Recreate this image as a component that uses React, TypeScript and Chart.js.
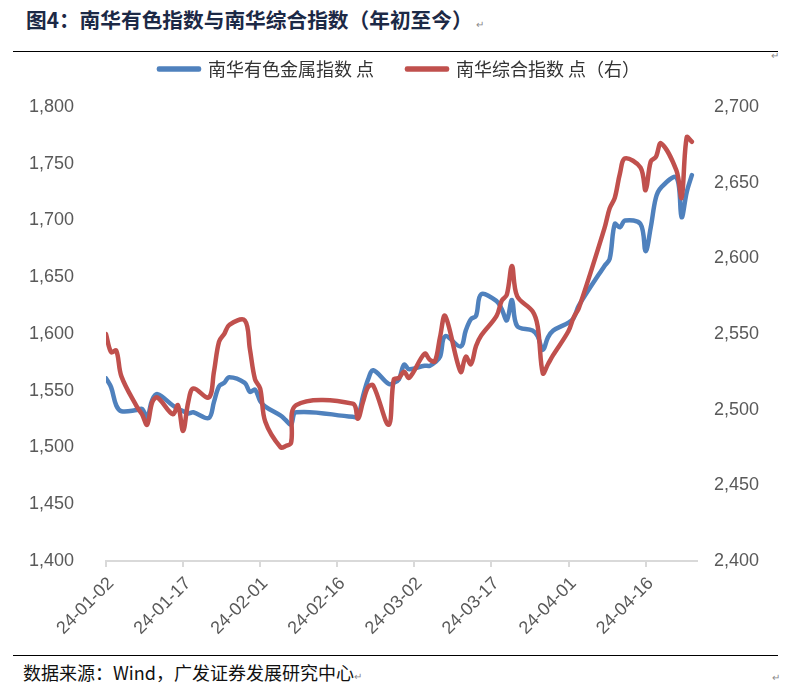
import React, { useEffect, useRef } from "react";
import { Chart, registerables } from "chart.js";

Chart.register(...registerables);

const tradeDates = [
  "2024-01-02","2024-01-03","2024-01-04","2024-01-05","2024-01-08","2024-01-09","2024-01-10","2024-01-11","2024-01-12",
  "2024-01-15","2024-01-16","2024-01-17","2024-01-18","2024-01-19","2024-01-22","2024-01-23","2024-01-24","2024-01-25",
  "2024-01-26","2024-01-29","2024-01-30","2024-01-31","2024-02-01","2024-02-02","2024-02-05","2024-02-06","2024-02-07",
  "2024-02-08","2024-02-19","2024-02-20","2024-02-21","2024-02-22","2024-02-23","2024-02-26","2024-02-27","2024-02-28",
  "2024-02-29","2024-03-01","2024-03-04","2024-03-05","2024-03-06","2024-03-07","2024-03-08","2024-03-11","2024-03-12",
  "2024-03-13","2024-03-14","2024-03-15","2024-03-18","2024-03-19","2024-03-20","2024-03-21","2024-03-22","2024-03-25",
  "2024-03-26","2024-03-27","2024-03-28","2024-03-29","2024-04-01","2024-04-02","2024-04-03","2024-04-08","2024-04-09",
  "2024-04-10","2024-04-11","2024-04-12","2024-04-15","2024-04-16","2024-04-17","2024-04-18","2024-04-19","2024-04-22",
  "2024-04-23","2024-04-24","2024-04-25",
];

// 南华有色金属指数（左轴）
const metalsIndex = [
  1561,1553,1537,1532,1533,1534,1527,1542,1547,1537,1534,1532,1530,1531,1526,1540,1554,1557,1562,1557,1549,1551,
  1541,1536,1528,1524,1520,1531,1527,1527,1545,1560,1568,1556,1557,1560,1573,
  1569,1572,1572,1575,1580,1598,1589,1603,1613,1616,1635,1629,1622,1612,1630,1607,1603,1598,1586,1597,1603,
  1610,1614,1625,1660,1666,1697,1694,1700,1697,1673,1694,1720,1729,1738,1703,1725,1740,
];

// 南华综合指数（右轴）
const compositeIndex = [
  2550,2538,2539,2522,2502,2497,2490,2505,2508,2497,2503,2486,2505,2514,2508,2525,2545,2550,2556,2559,2540,2520,
  2514,2492,2475,2476,2478,2503,2504,2494,2505,2515,2516,2490,2520,2521,2525,
  2521,2537,2533,2532,2548,2562,2525,2535,2530,2542,2549,2562,2572,2576,2595,2575,2565,2555,2524,2530,2536,
  2552,2561,2567,2620,2633,2640,2656,2666,2660,2645,2664,2667,2676,2658,2640,2680,2677,
];

const seriesNames = ["南华有色金属指数 点", "南华综合指数 点（右）"];
const leftAxis = { min: 1400, max: 1800, step: 50 };
const rightAxis = { min: 2400, max: 2700, step: 50 };
const xAxisDays = { min: 0, max: 115, step: 15 };

const titleText = "图4：南华有色指数与南华综合指数（年初至今）";
const sourceText = "数据来源：Wind，广发证券发展研究中心";

const BLUE = "#4F81BD";
const RED = "#C0504D";
const CJK = '"Noto Sans CJK SC", "Noto Sans", sans-serif';
const LATIN = '"Liberation Sans", Arial, sans-serif';

const START = Date.UTC(2024, 0, 2);
const dayOffset = (s: string) => {
  const [y, m, d] = s.split("-").map(Number);
  return (Date.UTC(y, m - 1, d) - START) / 86400000;
};
const pad2 = (n: number) => String(n).padStart(2, "0");
const fmtDay = (v: number) => {
  const dt = new Date(START + v * 86400000);
  return `${String(dt.getUTCFullYear()).slice(2)}-${pad2(dt.getUTCMonth() + 1)}-${pad2(dt.getUTCDate())}`;
};
const fmtNum = (v: number) => Number(v).toLocaleString("en-US");

export default function App() {
  const ref = useRef<HTMLCanvasElement | null>(null);

  useEffect(() => {
    if (!ref.current) return;
    const chart = new Chart(ref.current, {
      type: "line",
      data: {
        datasets: [
          {
            label: seriesNames[0],
            data: tradeDates.map((d, i) => ({ x: dayOffset(d), y: metalsIndex[i] })),
            borderColor: BLUE,
            backgroundColor: BLUE,
            borderWidth: 4.5,
            pointRadius: 0,
            tension: 0.35,
            yAxisID: "y",
            order: 1,
            borderCapStyle: "round",
            borderJoinStyle: "round",
          },
          {
            label: seriesNames[1],
            data: tradeDates.map((d, i) => ({ x: dayOffset(d), y: compositeIndex[i] })),
            borderColor: RED,
            backgroundColor: RED,
            borderWidth: 4.5,
            pointRadius: 0,
            tension: 0.35,
            yAxisID: "y1",
            order: 0,
            borderCapStyle: "round",
            borderJoinStyle: "round",
          },
        ],
      },
      options: {
        animation: false,
        responsive: false,
        maintainAspectRatio: false,
        events: [],
        layout: { padding: { top: 9, left: 0, right: 0, bottom: 0 } },
        plugins: {
          legend: {
            display: true,
            position: "top",
            weight: 3000,
            labels: {
              boxWidth: 40,
              boxHeight: 1,
              padding: 33,
              color: "#333333",
              font: { family: CJK, size: 18 },
              sort: (a: any, b: any) => a.datasetIndex - b.datasetIndex,
            },
          },
          title: {
            display: true,
            text: "",
            weight: 2000,
            padding: { top: 0, bottom: 7 },
            font: { size: 10, lineHeight: 1.2 },
          },
          tooltip: { enabled: false },
        },
        scales: {
          x: {
            type: "linear",
            min: xAxisDays.min,
            max: xAxisDays.max,
            afterFit: (s: any) => {
              s.height = 97;
            },
            grid: {
              display: true,
              drawOnChartArea: false,
              drawTicks: true,
              tickLength: 6,
              color: "#d9d9d9",
              lineWidth: 2,
            },
            border: { display: true, color: "#d9d9d9", width: 2 },
            ticks: {
              stepSize: xAxisDays.step,
              includeBounds: false,
              autoSkip: false,
              minRotation: 45,
              maxRotation: 45,
              padding: 6,
              labelOffset: 5,
              color: "#595959",
              font: { family: LATIN, size: 18 },
              callback: (v: any) => fmtDay(Number(v)),
            },
          },
          y: {
            position: "left",
            min: leftAxis.min,
            max: leftAxis.max,
            afterFit: (s: any) => {
              s.width = 106;
            },
            grid: { display: false },
            border: { display: false },
            ticks: {
              stepSize: leftAxis.step,
              padding: 24,
              color: "#595959",
              font: { family: LATIN, size: 18 },
              callback: (v: any) => fmtNum(v),
            },
          },
          y1: {
            position: "right",
            min: rightAxis.min,
            max: rightAxis.max,
            afterFit: (s: any) => {
              s.width = 102;
            },
            grid: { display: false, drawOnChartArea: false },
            border: { display: false },
            ticks: {
              stepSize: rightAxis.step,
              padding: 9,
              color: "#595959",
              font: { family: LATIN, size: 18 },
              callback: (v: any) => fmtNum(v),
            },
          },
        },
      },
    } as any);
    return () => chart.destroy();
  }, []);

  const mark: React.CSSProperties = { fontSize: 10, color: "#8a8a8a", fontFamily: LATIN };

  return (
    <div
      style={{
        position: "absolute",
        left: 0,
        top: 0,
        width: 799,
        height: 691,
        background: "#ffffff",
        overflow: "hidden",
      }}
    >
      <div
        style={{
          position: "absolute",
          left: 26,
          top: 6,
          lineHeight: "26px",
          fontFamily: CJK,
          fontWeight: 700,
          fontSize: 20.7,
          color: "#1c2946",
          whiteSpace: "nowrap",
        }}
      >
        {titleText}
        <span style={{ ...mark, fontWeight: 400, marginLeft: 3 }}>↵</span>
      </div>
      <div style={{ position: "absolute", left: 13, top: 51, width: 765, height: 1, background: "#000" }} />
      <div style={{ position: "absolute", left: 771, top: 50, ...mark }}>↵</div>

      <canvas
        ref={ref}
        width={799}
        height={640}
        style={{ position: "absolute", left: 0, top: 18, width: 799, height: 640 }}
      />

      <div style={{ position: "absolute", left: 13, top: 655, width: 765, height: 1, background: "#000" }} />
      <div
        style={{
          position: "absolute",
          left: 23,
          top: 660,
          lineHeight: "24px",
          fontFamily: CJK,
          fontSize: 18,
          color: "#111111",
          whiteSpace: "nowrap",
        }}
      >
        {sourceText}
        <span style={mark}>↵</span>
      </div>
      <div style={{ position: "absolute", left: 772, top: 672, ...mark }}>↵</div>
    </div>
  );
}
